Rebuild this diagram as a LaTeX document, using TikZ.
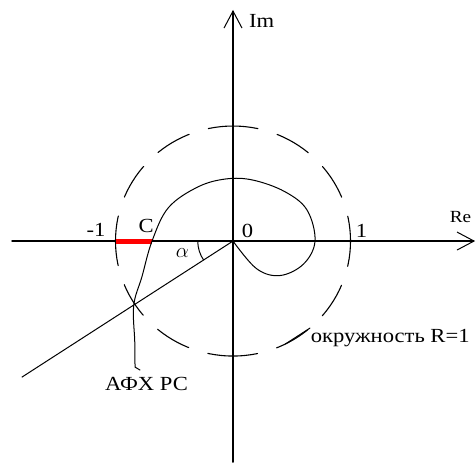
\documentclass[tikz,border=0pt]{standalone}
\usepackage{fontspec}
\setmainfont{Liberation Serif}[FakeStretch=1.13]
\usetikzlibrary{arrows.meta}

\begin{document}
\begin{tikzpicture}[x=117.5pt, y=115pt, >={Straight Barb[length=17pt,width=18pt,line width=1pt]},
	font=\fontsize{20}{24}\selectfont, line join=round, line cap=round,
	lab/.style={inner sep=0pt},
	axis/.style={line width=1.4pt,->},
	okr/.style={line width=1.1pt, dash pattern=on 50pt off 20pt on 36.25pt off 20pt on 36.25pt off 20pt, dash phase=25pt}]
	\def\xmin{-1.881} \def\xmax{2.06}
	\def\ymin{-1.922} \def\ymax{2.009}
	\def\al{213.4} % угол луча
	\useasboundingbox (-1.983,-1.922) rectangle (2.068,2.096);
	\coordinate (O) at (0,0);
	\coordinate (M1) at (-1,0);
	\coordinate (C) at (-0.689,0);
	\coordinate (L) at (-1.796,-1.183);
	% оси
	\draw[axis] (\xmin,0)--(\xmax,0);
	\draw[axis] (0,\ymin)--(0,\ymax);
	\node[lab, anchor=base west] (im) at (0.136,1.858) {Im};
	\node[lab, anchor=base, font=\fontsize{17}{20}\selectfont] (re) at (1.936,0.165) {Re};
	% окружность R=1
	\draw[okr] (O) ellipse [x radius=1, y radius=1];
	\draw[red, line width=5pt, line cap=butt] (M1)--(C);
	% луч и угол
	\draw[line width=1pt] (O)--(L);
	\draw[line width=1pt] (O) ++(180:0.3) arc[start angle=180, end angle=\al, radius=0.3];
	\node[lab] (alpha) at (-0.43,-0.104) {$\alpha$};
	% АФХ
	\draw[line width=1pt, smooth, tension=0.6] plot coordinates {(0,0) (0.2,-0.24) (0.4,-0.3)
		(0.6,-0.2) (0.698,0) (0.63,0.27) (0.44,0.43) (0.17,0.53) (-0.06,0.54) (-0.3,0.47)
		(-0.55,0.29) (-0.689,0) (-0.775,-0.31) (-0.845,-0.56) (-0.836,-0.88) (-0.834,-1.096)}
		-- (-0.791,-1.122);
	\node[lab, anchor=base] (afx) at (-0.736,-1.296) {АФХ РС};
	% подписи
	\node[lab, anchor=base] (m1) at (-1.166,0.043) {-1};
	\node[lab, anchor=base] (cl) at (-0.74,0.07) {C};
	\node[lab, anchor=base] (zero) at (0.123,0.035) {0};
	\node[lab, anchor=base] (one) at (1.094,0.035) {1};
	\coordinate (okrA) at (-63.5:1);
	\coordinate (okrB) at (0.655,-0.757);
	\draw[line width=1pt] (okrA)--(okrB);
	\node[lab, anchor=base west] (okrl) at (0.66,-0.878) {окружность R=1};
\end{tikzpicture}
\end{document}
